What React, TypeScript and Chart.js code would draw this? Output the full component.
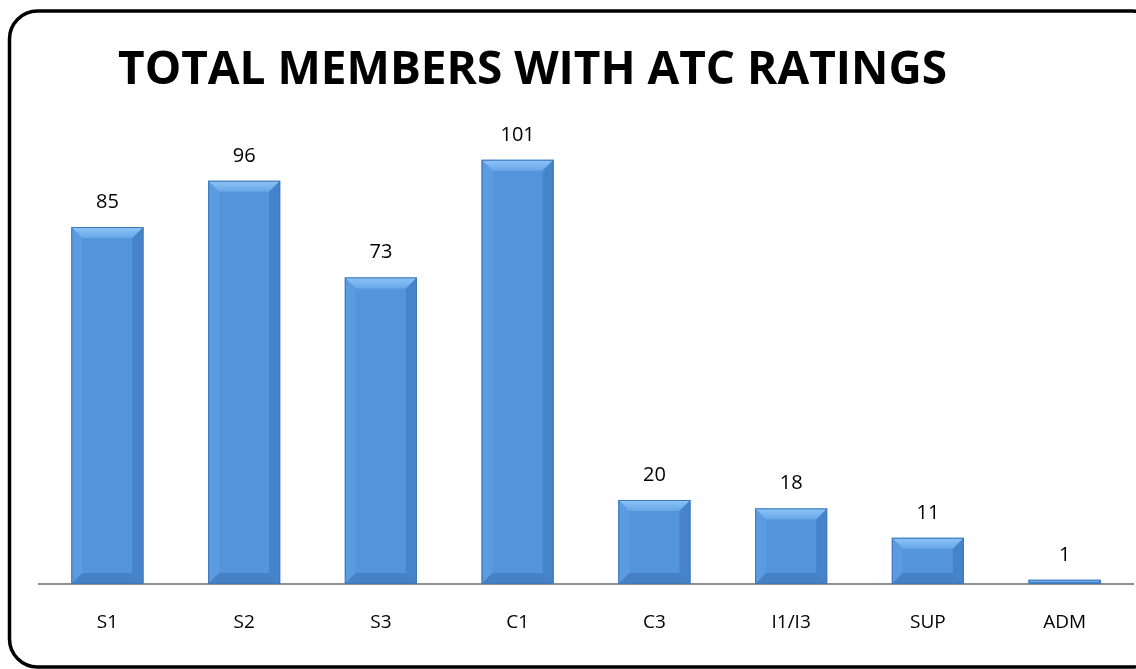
import React, { useEffect, useRef } from "react";
import { Chart, registerables } from "chart.js";

Chart.register(...registerables);

const TITLE = "TOTAL MEMBERS WITH ATC RATINGS";
const categories = ["S1", "S2", "S3", "C1", "C3", "I1/I3", "SUP", "ADM"];
const members = [85, 96, 73, 101, 20, 18, 11, 1];

const W = 1136;
const H = 669;

const framePlugin = {
  id: "frame",
  beforeDraw(chart: any) {
    const ctx = chart.ctx;
    ctx.save();
    ctx.fillStyle = "#ffffff";
    ctx.fillRect(0, 0, W, H);
    const x = 9.5, y = 11, w = 1150, h = 656, r = 28;
    ctx.beginPath();
    ctx.moveTo(x + r, y);
    ctx.lineTo(x + w - r, y);
    ctx.arcTo(x + w, y, x + w, y + r, r);
    ctx.lineTo(x + w, y + h - r);
    ctx.arcTo(x + w, y + h, x + w - r, y + h, r);
    ctx.lineTo(x + r, y + h);
    ctx.arcTo(x, y + h, x, y + h - r, r);
    ctx.lineTo(x, y + r);
    ctx.arcTo(x, y, x + r, y, r);
    ctx.closePath();
    ctx.lineWidth = 3.5;
    ctx.strokeStyle = "#000000";
    ctx.stroke();

    // title (font size chosen so the text spans the same width as the reference)
    let size = 46;
    ctx.font = `bold ${size}px "Open Sans", Lato, sans-serif`;
    const wMeasured = ctx.measureText(TITLE).width;
    size = size * (829 / wMeasured);
    ctx.font = `bold ${size}px "Open Sans", Lato, sans-serif`;
    ctx.fillStyle = "#000000";
    ctx.textAlign = "center";
    ctx.textBaseline = "alphabetic";
    ctx.fillText(TITLE, 532.5, 84);
    ctx.restore();
  },
};

const bevelPlugin = {
  id: "bevel",
  afterDatasetsDraw(chart: any) {
    const ctx = chart.ctx;
    const meta = chart.getDatasetMeta(0);
    ctx.save();
    meta.data.forEach((bar: any, i: number) => {
      const props = bar.getProps(["x", "y", "base", "width"], true);
      const L = props.x - props.width / 2;
      const R = props.x + props.width / 2;
      const T = props.y;
      const B = props.base;
      const hgt = B - T;
      const b = Math.min(11, hgt / 2);
      // top
      const gTop = ctx.createLinearGradient(0, T, 0, T + b);
      gTop.addColorStop(0, "#8ec5f5");
      gTop.addColorStop(1, "#68a6e8");
      ctx.fillStyle = gTop;
      ctx.beginPath();
      ctx.moveTo(L, T);
      ctx.lineTo(R, T);
      ctx.lineTo(R - b, T + b);
      ctx.lineTo(L + b, T + b);
      ctx.closePath();
      ctx.fill();
      // left
      ctx.fillStyle = "#5b9be1";
      ctx.beginPath();
      ctx.moveTo(L, T);
      ctx.lineTo(L + b, T + b);
      ctx.lineTo(L + b, B - b);
      ctx.lineTo(L, B);
      ctx.closePath();
      ctx.fill();
      // right
      ctx.fillStyle = "#4584ca";
      ctx.beginPath();
      ctx.moveTo(R, T);
      ctx.lineTo(R - b, T + b);
      ctx.lineTo(R - b, B - b);
      ctx.lineTo(R, B);
      ctx.closePath();
      ctx.fill();
      // bottom
      ctx.fillStyle = "#4681c4";
      ctx.beginPath();
      ctx.moveTo(L, B);
      ctx.lineTo(L + b, B - b);
      ctx.lineTo(R - b, B - b);
      ctx.lineTo(R, B);
      ctx.closePath();
      ctx.fill();
      // outline
      ctx.strokeStyle = "#3f78b8";
      ctx.lineWidth = 1;
      ctx.strokeRect(L + 0.5, T + 0.5, R - L - 1, hgt - 1);

      // value label
      ctx.fillStyle = "#000000";
      ctx.font = `20px "Open Sans", Lato, sans-serif`;
      ctx.textAlign = "center";
      ctx.textBaseline = "middle";
      ctx.fillText(String(members[i]), props.x, T - 25);
    });
    ctx.restore();
  },
};

export default function App() {
  const ref = useRef<HTMLCanvasElement | null>(null);
  useEffect(() => {
    if (!ref.current) return;
    const chart = new Chart(ref.current, {
      type: "bar",
      data: {
        labels: categories,
        datasets: [
          {
            data: members,
            backgroundColor: "#5494db",
            borderWidth: 0,
            barPercentage: 0.527,
            categoryPercentage: 1,
          },
        ],
      },
      options: {
        responsive: false,
        animation: false,
        devicePixelRatio: 1,
        layout: { padding: { left: 39, right: 3, top: 122, bottom: 0 } },
        plugins: {
          legend: { display: false },
          title: { display: false },
          tooltip: { enabled: false },
        },
        scales: {
          x: {
            grid: { display: false },
            border: { display: true, color: "#8f8f8f", width: 2 },
            ticks: {
              color: "#000000",
              font: { size: 19, family: '"Open Sans", Lato, sans-serif' },
              padding: 19,
            },
            afterFit(scale: any) {
              scale.height = 85;
            },
          },
          y: {
            display: false,
            min: 0,
            max: 110,
          },
        },
      },
      plugins: [framePlugin, bevelPlugin],
    });
    return () => chart.destroy();
  }, []);
  return (
    <canvas
      ref={ref}
      width={W}
      height={H}
      style={{ position: "fixed", left: 0, top: 0, width: W, height: H }}
    />
  );
}
